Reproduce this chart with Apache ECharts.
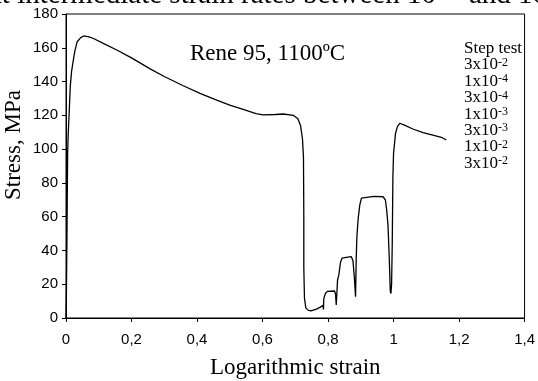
<!DOCTYPE html>
<html>
<head>
<meta charset="utf-8">
<script src="https://cdn.jsdelivr.net/npm/echarts@6/dist/echarts.min.js"></script>
<style>html,body{margin:0;padding:0;background:#fff;}#c{width:538px;height:381px;}</style>
</head>
<body>
<div id="c"></div>
<script>
// Logarithmic strain values
var strain = [
  0.000, 0.001, 0.002, 0.003, 0.004, 0.005, 0.007, 0.010, 0.013, 0.017,
  0.021, 0.027, 0.034, 0.045, 0.054, 0.070, 0.084, 0.120, 0.155, 0.200,
  0.257, 0.300, 0.358, 0.409, 0.460, 0.500, 0.541, 0.580, 0.602, 0.640,
  0.663, 0.694, 0.708, 0.716, 0.722, 0.725, 0.726, 0.726, 0.728, 0.732,
  0.740, 0.750, 0.765, 0.775, 0.785, 0.786, 0.787, 0.792, 0.798, 0.820,
  0.823, 0.825, 0.827, 0.829, 0.833, 0.835, 0.838, 0.843, 0.860, 0.871,
  0.876, 0.880, 0.884, 0.886, 0.888, 0.892, 0.897, 0.902, 0.907, 0.940,
  0.968, 0.975, 0.979, 0.983, 0.987, 0.990, 0.992, 0.994, 0.996, 0.998,
  1.000, 1.006, 1.012, 1.019, 1.035, 1.059, 1.090, 1.120, 1.146, 1.161
];
// Stress values, MPa
var stress = [
  0, 10, 30, 50, 75, 98, 110, 123, 137, 146,
  151, 158, 163.6, 166, 167, 166.5, 165.5, 162, 158.7, 154,
  147.5, 143, 137.5, 133, 129, 126, 123.5, 121, 120.3, 120.5,
  120.8, 120, 118, 114, 106, 95, 60, 30, 12, 6,
  4.5, 4.3, 5.3, 6.3, 7.5, 5, 11.5, 14.5, 15.8, 16,
  14, 7.7, 15, 22.5, 25.5, 26, 33, 35.5, 36, 36.3,
  34, 25, 12.6, 35, 48, 59, 67, 71, 71.8, 72,
  71.8, 70, 64, 55, 35, 16, 14.5, 20, 44, 83.7,
  97.5, 109.3, 113.5, 115.3, 114, 111.9, 109.7, 108.3, 107, 105.4
];
var xTicks = [0, 0.2, 0.4, 0.6, 0.8, 1, 1.2, 1.4];
var yTicks = [0, 20, 40, 60, 80, 100, 120, 140, 160, 180];
var legendTitle = 'Step test';
var stepRates = [['3x10', '-2'], ['1x10', '-4'], ['3x10', '-4'], ['1x10', '-3'], ['3x10', '-3'], ['1x10', '-2'], ['3x10', '-2']];
var annotation = 'Rene 95, 1100\u00baC';
var xTitle = 'Logarithmic strain';
var yTitle = 'Stress, MPa';
var pageText = 'at intermediate strain rates between 10';
var pageText2 = 'and 10';

var serif = '"Liberation Serif", "Times New Roman", serif';
var sans = '"Liberation Sans", Arial, sans-serif';

var data = strain.map(function (x, i) { return [x, stress[i]]; });

var legendStr = legendTitle + '\n' + stepRates.map(function (r) {
  return '{n|' + r[0] + '}{s|' + r[1] + '}';
}).join('\n');

var chart = echarts.init(document.getElementById('c'), null, { renderer: 'canvas' });
chart.setOption({
  animation: false,
  backgroundColor: '#fff',
  grid: { left: 66, right: 13, top: 14, bottom: 63, show: true, borderColor: '#000', borderWidth: 1 },
  xAxis: {
    type: 'value', min: xTicks[0], max: xTicks[xTicks.length - 1], interval: 0.2,
    splitLine: { show: false },
    axisLine: { onZero: false, lineStyle: { color: '#000', width: 1 } },
    axisTick: { inside: false, length: 4, lineStyle: { color: '#000' } },
    axisLabel: {
      color: '#000', fontFamily: sans, fontSize: 15, margin: 14, showMaxLabel: true, showMinLabel: true,
      formatter: function (v) { return String(+v.toFixed(1)).replace('.', ','); }
    }
  },
  yAxis: {
    type: 'value', min: yTicks[0], max: yTicks[yTicks.length - 1], interval: 20,
    splitLine: { show: false },
    axisLine: { onZero: false, lineStyle: { color: '#000', width: 1 } },
    axisTick: { inside: false, length: 4, lineStyle: { color: '#000' } },
    axisLabel: { color: '#000', fontFamily: sans, fontSize: 15, margin: 8 }
  },
  series: [{
    type: 'line', data: data, showSymbol: false, smooth: false,
    lineStyle: { color: '#000', width: 1.3 }
  }],
  graphic: [
    { type: 'text', left: 190, top: 42, style: { text: annotation, font: '23px ' + serif, fill: '#000' } },
    { type: 'text', left: 464, top: 40, style: {
      text: legendStr, font: '17px ' + serif, fill: '#000', lineHeight: 16.4,
      rich: {
        n: { fontSize: 17, fontFamily: serif, lineHeight: 16.4, fill: '#000' },
        s: { fontSize: 12, fontFamily: serif, lineHeight: 4, verticalAlign: 'top', fill: '#000' }
      }
    } },
    { type: 'text', left: 210, top: 356, style: { text: xTitle, font: '23px ' + serif, fill: '#000' } },
    { type: 'text', x: 2, y: 200, rotation: Math.PI / 2, style: { text: yTitle, font: '23px ' + serif, fill: '#000' } },
    { type: 'text', x: -11, y: 10, style: { text: pageText, font: '29px ' + serif, fill: '#000', verticalAlign: 'bottom' } },
    { type: 'text', x: 469, y: 10, style: { text: pageText2, font: '29px ' + serif, fill: '#000', verticalAlign: 'bottom' } }
  ]
});
</script>
</body>
</html>
